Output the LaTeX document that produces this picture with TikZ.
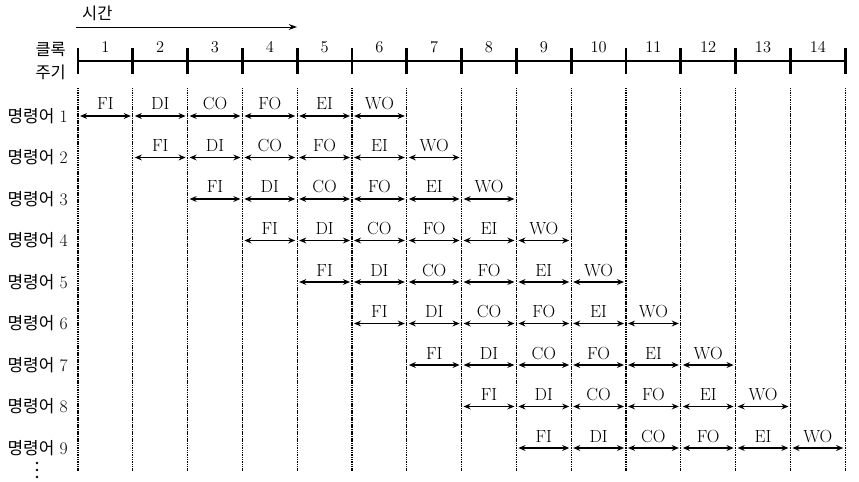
\documentclass[tikz,border=0pt]{standalone}
\usepackage{fontspec}
\newfontfamily\kr{Noto Sans CJK KR}
\usetikzlibrary{arrows.meta}

\begin{document}
\begin{tikzpicture}[x=0.03cm, y=-0.03cm,
  stage/.style={{Stealth[length=6pt,width=5pt]}-{Stealth[length=6pt,width=5pt]}, line width=1.1pt},
  gridline/.style={line width=1pt, dash pattern=on 1pt off 0.5pt},
  axis/.style={line width=2.4pt},
  numlabel/.style={font=\fontsize{14}{16}\selectfont, anchor=base, inner sep=0pt},
  stlabel/.style={font=\fontsize{15}{17}\selectfont, anchor=base, inner sep=0pt},
  rowlabel/.style={font=\fontsize{15}{17}\selectfont, anchor=east, inner sep=0pt},
  krlabel/.style={font=\kr\fontsize{14}{16}\selectfont, anchor=east, inner sep=0pt}
]
\useasboundingbox (0,0) rectangle (859,482);

% 열 폭 / 행 간격 (px)
\def\colw{54.8}
\def\xo{78}
\def\rowh{41.5}
\def\rowy{116}

% 시간 화살표
\coordinate (time0) at (76,27);
\coordinate (time1) at (297,27);
\draw[-{Stealth[length=7pt,width=5pt]}, line width=0.8pt] (time0) -- (time1);
\node[font=\kr\fontsize{14}{16}\selectfont, anchor=west, inner sep=0pt] (time) at (82,13) {시간};

% 클록 주기 축
\node[krlabel] (clk1) at (66,49) {클록};
\node[krlabel] (clk2) at (66,72) {주기};
\coordinate (ax0) at (\xo,61);
\coordinate (ax14) at ({\xo+14*\colw},61);
\draw[axis] (ax0) -- (ax14);
\foreach \k in {0,...,14} {
  \draw[axis] ({\xo+\k*\colw},48) -- ({\xo+\k*\colw},74);
  \draw[gridline] ({\xo+\k*\colw},88) -- ({\xo+\k*\colw},471);
}
\foreach \k in {1,...,14}
  \node[numlabel] (n\k) at ({\xo+(\k-0.5)*\colw},53) {\k};

% 명령어 파이프라인
\foreach \i in {1,...,9} {
  \pgfmathsetmacro{\y}{\rowy+(\i-1)*\rowh}
  \node[rowlabel] (ins\i) at (68,\y) {{\kr\fontsize{14.5}{16}\selectfont 명령어} \i};
  \foreach \s [count=\j from 0] in {FI,DI,CO,FO,EI,WO} {
    \pgfmathsetmacro{\xa}{\xo+(\i-1+\j)*\colw+2}
    \pgfmathsetmacro{\xb}{\xo+(\i+\j)*\colw-2}
    \coordinate (s\i-\j) at (\xa,\y);
    \coordinate (e\i-\j) at (\xb,\y);
    \draw[stage] (s\i-\j) -- (e\i-\j);
    \node[stlabel] (t\i-\j) at ({(\xa+\xb)/2},\y-6) {\s};
  }
}

% 생략
\foreach \d in {463,470,477}
  \fill ({37},\d) circle (1.4);

\end{tikzpicture}
\end{document}
